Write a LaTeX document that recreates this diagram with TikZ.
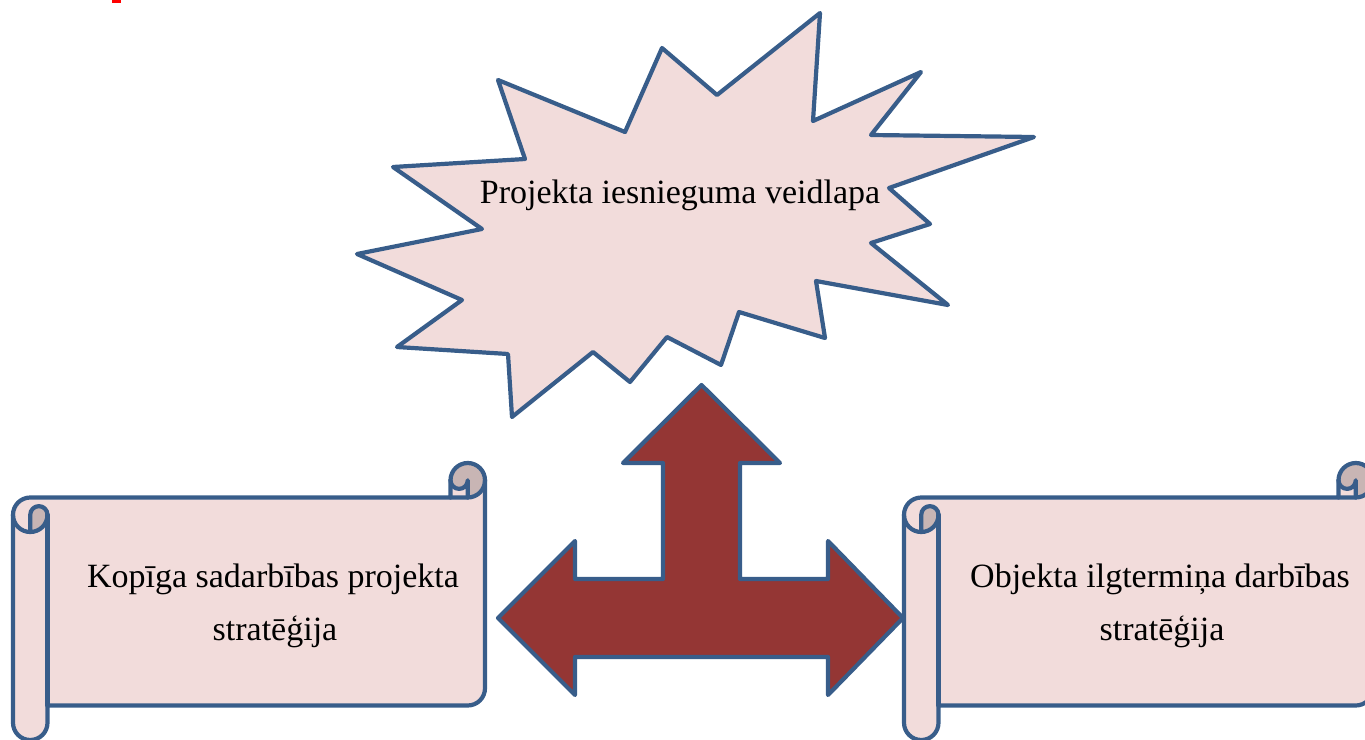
\documentclass[tikz,border=0pt]{standalone}
\usepackage{fontspec}
\setmainfont{Liberation Serif}
\definecolor{bordblue}{HTML}{385D8A}
\definecolor{pinkfill}{HTML}{F2DCDB}
\definecolor{curlfill}{HTML}{C8B5B4}
\definecolor{arrowred}{HTML}{943634}
\tikzset{
  edge/.style={draw=bordblue, line width=4.2pt, line join=round, line cap=round},
  scrollfill/.style={fill=pinkfill},
  darkcurl/.style={fill=curlfill},
  label/.style={font=\fontsize{34pt}{40pt}\selectfont, text=black, inner sep=0pt, anchor=base},
}
\newcommand{\hscrollshape}[4]{%
  \pgfmathsetmacro\hsL{#1}\pgfmathsetmacro\hsT{#2}%
  \pgfmathsetmacro\hsR{#3}\pgfmathsetmacro\hsB{#4}%
  \pgfmathsetmacro\hsCh{34.5}%
  \pgfmathsetmacro\hsChb{\hsCh/2}%
  \pgfmathsetmacro\hsChd{\hsCh/4}%
  \pgfmathsetmacro\hsYc{\hsT+\hsCh}%
  \pgfmathsetmacro\hsYb{\hsT+\hsChb}%
  \pgfmathsetmacro\hsYiii{\hsT+\hsCh+\hsChb}%
  \pgfmathsetmacro\hsYiv{\hsT+2*\hsCh}%
  \pgfmathsetmacro\hsYvi{\hsB-\hsCh}%
  \pgfmathsetmacro\hsYvii{\hsB-\hsChb}%
  \pgfmathsetmacro\hsYv{\hsYvi-\hsChb}%
  \pgfmathsetmacro\hsXiii{\hsR-\hsCh}%
  \pgfmathsetmacro\hsXiv{\hsR-\hsChb}%
  \pgfmathsetmacro\hsXa{\hsL+\hsChb}%
  \pgfmathsetmacro\hsXb{\hsL+\hsCh}%
  \fill[scrollfill] (\hsL,\hsYiii) arc[start angle=180,delta angle=90,radius=\hsChb pt]
    -- (\hsXiii,\hsYc) -- (\hsXiii,\hsYb) arc[start angle=180,delta angle=180,radius=\hsChb pt]
    -- (\hsR,\hsYv) arc[start angle=0,delta angle=90,radius=\hsChb pt]
    -- (\hsXb,\hsYvi) -- (\hsXb,\hsYvii) arc[start angle=0,delta angle=180,radius=\hsChb pt] -- cycle;
  \fill[darkcurl] (\hsXiv,\hsYc) arc[start angle=90,delta angle=-270,radius=\hsChb pt]
    arc[start angle=180,delta angle=-180,radius=\hsChd pt] -- cycle;
  \fill[darkcurl] (\hsXa,\hsYiv) arc[start angle=90,delta angle=-90,radius=\hsChb pt]
    arc[start angle=0,delta angle=-180,radius=\hsChd pt] -- cycle;
  \draw[edge] (\hsL,\hsYiii) arc[start angle=180,delta angle=90,radius=\hsChb pt]
    -- (\hsXiii,\hsYc) -- (\hsXiii,\hsYb) arc[start angle=180,delta angle=180,radius=\hsChb pt]
    -- (\hsR,\hsYv) arc[start angle=0,delta angle=90,radius=\hsChb pt]
    -- (\hsXb,\hsYvi) -- (\hsXb,\hsYvii) arc[start angle=0,delta angle=180,radius=\hsChb pt] -- cycle;
  \draw[edge] (\hsXiii,\hsYc) -- (\hsXiv,\hsYc) arc[start angle=90,delta angle=-90,radius=\hsChb pt];
  \draw[edge] (\hsXiv,\hsYc) -- (\hsXiv,\hsYb) arc[start angle=0,delta angle=180,radius=\hsChd pt];
  \draw[edge] (\hsXa,\hsYiv) -- (\hsXa,\hsYiii) arc[start angle=180,delta angle=180,radius=\hsChd pt]
    arc[start angle=0,delta angle=180,radius=\hsChb pt];
  \draw[edge] (\hsXb,\hsYiii) -- (\hsXb,\hsYvi);
}
\begin{document}
\begin{tikzpicture}[yscale=-1, x=1pt, y=1pt]
\useasboundingbox (0,0) rectangle (1365,739);
% small red mark at top
\fill[red] (112,0) rectangle (121,2.5);
% explosion
\draw[edge, fill=pinkfill] (498,80) -- (625,132) -- (662,48) -- (717,95) -- (820,13) -- (813,121)
  -- (921,72) -- (871,135) -- (1034,137) -- (889,188) -- (930,224) -- (871,243) -- (948,305)
  -- (816,281) -- (825,338) -- (739,312) -- (721,365) -- (667,337) -- (630,382) -- (593,352)
  -- (512,417) -- (508,354) -- (397,347) -- (462,300) -- (357,254) -- (482,229) -- (393,167)
  -- (525,159) -- cycle;
\node[label] (top) at (680,203) {Projekta iesnieguma veidlapa};
% three-way arrow
\draw[edge, fill=arrowred] (701.5,385) -- (780,463) -- (740,463) -- (740,579) -- (828,579)
  -- (828,541) -- (903,618) -- (828,695) -- (828,657) -- (575,657) -- (575,695) -- (498,618)
  -- (575,541) -- (575,579) -- (663,579) -- (663,463) -- (623,463) -- cycle;
% scrolls
\hscrollshape{13}{463}{485}{740}
\hscrollshape{904}{463}{1373}{740}
\node[label] (left1) at (273,587) {Kopīga sadarbības projekta};
\node[label] (left2) at (275,640) {stratēģija};
\node[label] (right1) at (1160,587) {Objekta ilgtermiņa darbības};
\node[label] (right2) at (1162,640) {stratēģija};
\end{tikzpicture}
\end{document}
